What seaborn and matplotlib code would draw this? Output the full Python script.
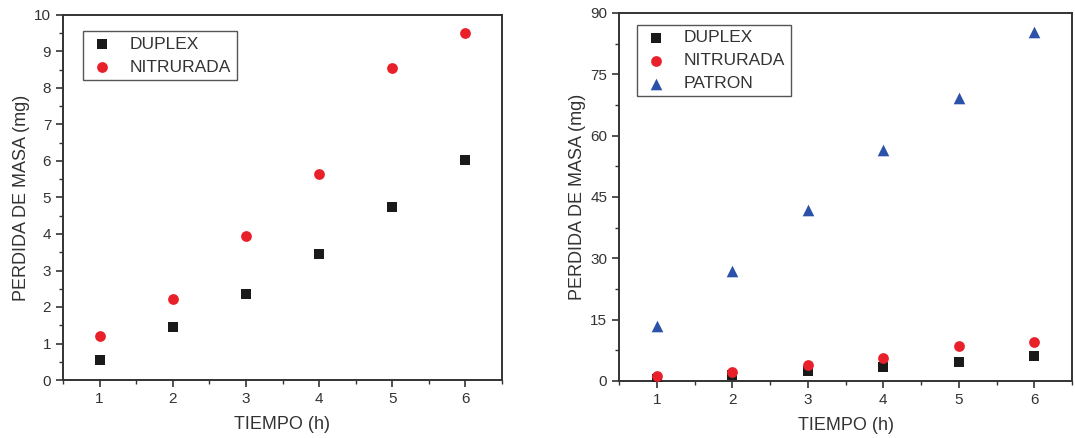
import numpy as np
import pandas as pd
import seaborn as sns
import matplotlib
matplotlib.use("Agg")
import matplotlib.pyplot as plt
from matplotlib.ticker import MultipleLocator

# data
tiempo = [1, 2, 3, 4, 5, 6]
duplex = [0.55, 1.45, 2.36, 3.45, 4.75, 6.03]
nitrurada = [1.21, 2.21, 3.95, 5.64, 8.54, 9.50]
patron = [13.4, 27.0, 41.9, 56.4, 69.3, 85.3]

sns.set_style("ticks")
plt.rcParams['font.family'] = ['Liberation Sans', 'DejaVu Sans']
plt.rcParams['text.color'] = '#333333'
plt.rcParams['axes.labelcolor'] = '#333333'
plt.rcParams['xtick.color'] = '#333333'
plt.rcParams['ytick.color'] = '#333333'

colors = {'DUPLEX': '#1a1a1a', 'NITRURADA': '#e8202a', 'PATRON': '#2b52a8'}
markers = {'DUPLEX': 's', 'NITRURADA': 'o', 'PATRON': '^'}
sizes = {'DUPLEX': 45, 'NITRURADA': 60, 'PATRON': 70}

def long_df(series):
    frames = []
    for name, vals in series.items():
        frames.append(pd.DataFrame({'TIEMPO': tiempo, 'MASA': vals, 'Serie': name}))
    return pd.concat(frames, ignore_index=True)

fig = plt.figure(figsize=(10.75, 4.38), dpi=100)
ax1 = fig.add_axes([63 / 1075, 58 / 438, 439 / 1075, 365 / 438])
ax2 = fig.add_axes([619 / 1075, 57 / 438, 453 / 1075, 368 / 438])

panels = [
    (ax1, long_df({'DUPLEX': duplex, 'NITRURADA': nitrurada}), (0, 10), 1, 0.5,
     (0.046, 0.955)),
    (ax2, long_df({'DUPLEX': duplex, 'NITRURADA': nitrurada, 'PATRON': patron}),
     (0, 90), 15, 7.5, (0.04, 0.968)),
]

for ax, df, ylim, major, minor, leg_pos in panels:
    for name, sub in df.groupby('Serie', sort=False):
        sns.scatterplot(data=sub, x='TIEMPO', y='MASA', ax=ax, color=colors[name],
                        marker=markers[name], s=sizes[name], linewidth=0, label=name,
                        zorder=3)
    ax.set_xlim(0.5, 6.5)
    ax.set_ylim(*ylim)
    ax.xaxis.set_major_locator(MultipleLocator(1))
    ax.xaxis.set_minor_locator(MultipleLocator(0.5))
    ax.yaxis.set_major_locator(MultipleLocator(major))
    ax.yaxis.set_minor_locator(MultipleLocator(minor))
    ax.tick_params(which='major', direction='out', length=5, width=1.2, labelsize=11)
    ax.tick_params(which='minor', direction='out', length=3, width=1.0)
    for sp in ax.spines.values():
        sp.set_visible(True)
        sp.set_linewidth(1.4)
        sp.set_color('#333333')
    ax.set_xlabel('TIEMPO (h)', fontsize=13, labelpad=7)
    ax.set_ylabel('PERDIDA DE MASA (mg)', fontsize=13, labelpad=3)
    leg = ax.legend(loc='upper left', bbox_to_anchor=leg_pos, fancybox=False,
                    framealpha=1, edgecolor='#555555', fontsize=12.5,
                    handletextpad=0.8, borderpad=0.3, labelspacing=0.45,
                    borderaxespad=0, handlelength=1.6)
    leg.get_frame().set_linewidth(1.0)

fig.savefig('out.png', dpi=100)
